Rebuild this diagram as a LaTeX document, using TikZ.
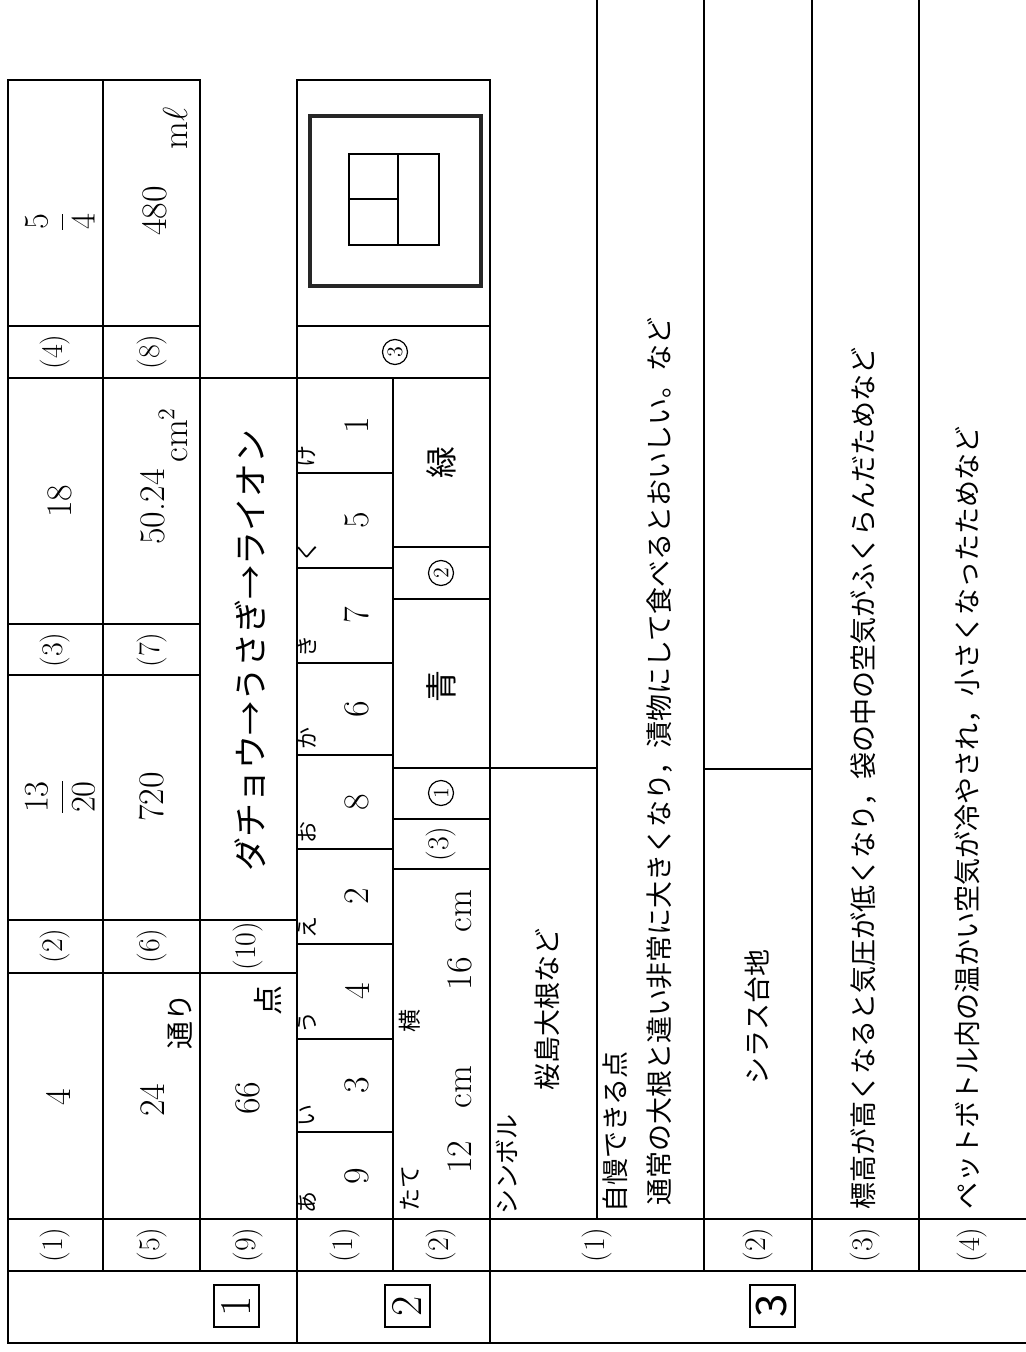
\documentclass[tikz,border=0pt]{standalone}
\usepackage{fontspec}
\newfontfamily\jp{Noto Sans CJK JP}
\begin{document}
\begin{tikzpicture}[x=0.5pt,y=-0.5pt,
  ln/.style={line width=1pt, line cap=rect},
  num/.style={rotate=90, font=\fontsize{18}{20}\selectfont, inner sep=0},
  lab/.style={rotate=90, font=\fontsize{15}{17}\selectfont, inner sep=0},
  jt/.style={rotate=90, font=\jp\fontsize{13.5}{16}\selectfont, inner sep=0, anchor=west},
  jc/.style={rotate=90, font=\jp\fontsize{13.5}{16}\selectfont, inner sep=0},
  kana/.style={rotate=90, font=\jp\fontsize{11}{12}\selectfont, inner sep=0, anchor=west},
  circ/.style={rotate=90, circle, draw, line width=0.6pt, inner sep=0, minimum size=12.5pt, font=\fontsize{11}{11}\selectfont},
  secbox/.style={rotate=90, draw, line width=1pt, minimum width=21pt, minimum height=22.5pt, inner sep=0, font=\fontsize{22}{22}\selectfont},
]
\useasboundingbox (0,0) rectangle (1025,1352);
\fill[white] (0,0) rectangle (1025,1352);

% ---- grid lines ----
\draw[ln] (8,80) -- (200,80) (297,80) -- (490,80);
\draw[ln] (8,80) -- (8,1343);
\draw[ln] (103,80) -- (103,1271);
\draw[ln] (200,80) -- (200,1271);
\draw[ln] (297,80) -- (297,1343);
\draw[ln] (393,378) -- (393,1271);
\draw[ln] (490,80) -- (490,1343);
\draw[ln] (597,0) -- (597,1219);
\draw[ln] (704,0) -- (704,1271);
\draw[ln] (812,0) -- (812,1271);
\draw[ln] (919,0) -- (919,1271);
\draw[ln] (8,326) -- (200,326) (297,326) -- (490,326);
\draw[ln] (8,378) -- (490,378);
\draw[ln] (8,624) -- (200,624) (8,675) -- (200,675);
\draw[ln] (8,920) -- (297,920) (8,973) -- (297,973);
\draw[ln] (8,1219) -- (1025,1219) (8,1271) -- (1025,1271) (8,1343) -- (1025,1343);
\foreach \yy in {473,568,663,755,849,944,1039,1132} \draw[ln] (297,\yy) -- (393,\yy);
\draw[ln] (393,547) -- (490,547) (393,599) -- (490,599) (393,768) -- (597,768)
          (393,819) -- (490,819) (393,869) -- (490,869);
\draw[ln] (704,769) -- (812,769);

% ---- figure in 2 (3) ----
\draw[line width=2pt, black!85] (310,116) rectangle (481,286);
\draw[ln] (349,154) rectangle (439,245) (398,154) -- (398,245) (349,199) -- (398,199);

% ---- section boxes ----
\node[secbox] (s1) at (236,1306) {1};
\node[secbox] (s2) at (407,1306) {2};
\node[secbox, font=\jp\fontsize{21}{21}\selectfont] (s3) at (772,1306) {3};

% ---- section 1 labels ----
\node[lab] (l1) at (55,1245) {(1)};
\node[lab] (l5) at (152,1245) {(5)};
\node[lab] (l9) at (248,1245) {(9)};
\node[lab] (l2) at (55,946) {(2)};
\node[lab] (l6) at (152,946) {(6)};
\node[lab] (l10) at (248,946) {(10)};
\node[lab] (l3) at (55,650) {(3)};
\node[lab] (l7) at (152,650) {(7)};
\node[lab] (l4) at (55,352) {(4)};
\node[lab] (l8) at (152,352) {(8)};

% ---- section 1 answers ----
\node[num] (a1) at (58,1097) {4};
\node[num, font=\fontsize{17}{19}\selectfont] (a2) at (60,797) {$\displaystyle\frac{13}{20}$};
\node[num] (a3) at (60,501) {18};
\node[num, font=\fontsize{17}{19}\selectfont] (a4) at (60,222) {$\displaystyle\frac{5}{4}$};
\node[num] (a5) at (152,1100) {24};
\node[jc, font=\jp\fontsize{14}{16}\selectfont] (a5u) at (180,1021) {通り};
\node[num] (a6) at (152,797) {720};
\node[num] (a7) at (153,507) {50.24};
\node[num, anchor=base west] (a7u) at (187,463) {cm$^{2}$};
\node[num] (a8) at (155,211) {480};
\node[num, anchor=base west] (a8u) at (187,150) {m$\ell$};
\node[num] (a9) at (248,1098) {66};
\node[jc, font=\jp\fontsize{15}{16}\selectfont] (a9u) at (268,1000) {点};
\node[jc, font=\jp\fontsize{17}{18}\selectfont] (a10) at (250,650) {ダチョウ→うさぎ→ライオン};

% ---- section 2 ----
\node[lab] (m1) at (345,1245) {(1)};
\node[lab] (m2) at (441,1245) {(2)};
\node[lab] (m3) at (441,844) {(3)};
\node[kana] (ka) at (307,1214) {あ};
\node[kana] (ki) at (307,1127) {い};
\node[kana] (ku) at (307,1034) {う};
\node[kana] (ke) at (307,939) {え};
\node[kana] (ko) at (307,844) {お};
\node[kana] (kka) at (307,750) {か};
\node[kana] (kki) at (307,658) {き};
\node[kana] (kku) at (307,563) {く};
\node[kana] (kke) at (307,468) {け};
\node[num] (n1) at (357,1176) {9};
\node[num] (n2) at (357,1085) {3};
\node[num] (n3) at (357,991) {4};
\node[num] (n4) at (357,896) {2};
\node[num] (n5) at (357,802) {8};
\node[num] (n6) at (357,709) {6};
\node[num] (n7) at (357,615) {7};
\node[num] (n8) at (357,520) {5};
\node[num] (n9) at (357,425) {1};
\node[kana, font=\jp\fontsize{11.5}{12}\selectfont] (tate) at (410,1212) {たて};
\node[num] (tv) at (460,1120) {12\hspace{0.9em}cm};
\node[jc, font=\jp\fontsize{11.5}{12}\selectfont] (yoko) at (410,1021) {横};
\node[num] (yv) at (460,940) {16\hspace{0.7em}cm};
\node[circ] (c1) at (441,793) {1};
\node[jc, font=\jp\fontsize{16}{18}\selectfont] (ao) at (441,686) {青};
\node[circ] (c2) at (441,573) {2};
\node[jc, font=\jp\fontsize{16}{18}\selectfont] (mid) at (441,462) {緑};
\node[circ] (c3) at (395,352) {3};

% ---- section 3 ----
\node[lab] (p1) at (597,1245) {(1)};
\node[lab] (p2) at (758,1245) {(2)};
\node[lab] (p3) at (865,1245) {(3)};
\node[lab] (p4) at (972,1245) {(4)};
\node[jt, font=\jp\fontsize{12.5}{14}\selectfont] (sym) at (507,1215) {シンボル};
\node[jc] (sakura) at (547,1009) {桜島大根など};
\node[jt] (jiman) at (615,1213) {自慢できる点};
\node[jt] (t1) at (660,1206) {通常の大根と違い非常に大きくなり，漬物にして食べるとおいしい。など};
\node[jc] (t2) at (757,1017) {シラス台地};
\node[jt] (t3) at (864,1210) {標高が高くなると気圧が低くなり，袋の中の空気がふくらんだためなど};
\node[jt] (t4) at (968,1210) {ペットボトル内の温かい空気が冷やされ，小さくなったためなど};
\end{tikzpicture}
\end{document}
